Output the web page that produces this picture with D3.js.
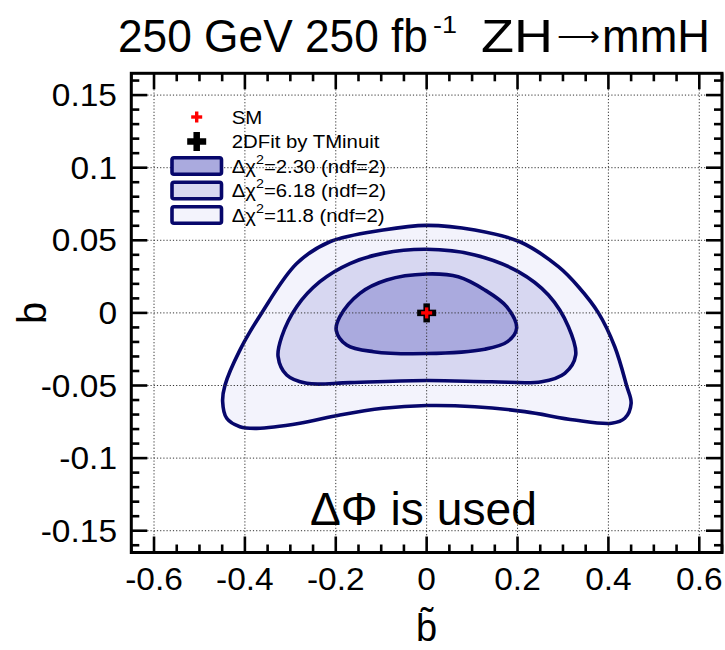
<!DOCTYPE html>
<html><head><meta charset="utf-8">
<script src="https://cdn.jsdelivr.net/npm/d3@7"></script>
<style>body{margin:0;background:#fff} svg{display:block} text{font-family:"Liberation Sans",Arial,Helvetica,sans-serif;fill:#000}</style>
</head><body>
<svg id="c" width="725" height="650"></svg>
<script>
// ---- data ----
const xTicks = [-0.6, -0.4, -0.2, 0, 0.2, 0.4, 0.6];
const xTickLabels = ["-0.6", "-0.4", "-0.2", "0", "0.2", "0.4", "0.6"];
const yTicks = [-0.15, -0.1, -0.05, 0, 0.05, 0.1, 0.15];
const yTickLabels = ["-0.15", "-0.1", "-0.05", "0", "0.05", "0.1", "0.15"];

// contour Δχ²=11.8
const outerBt = [0, 0.106, 0.205, 0.290, 0.334, 0.378, 0.414, 0.440, 0.450, 0.436, 0.407, 0.326, 0.216, 0.106, 0, -0.096, -0.191, -0.279, -0.374, -0.411, -0.440, -0.449, -0.444, -0.411, -0.363, -0.286, -0.213, -0.096];
const outerB  = [0.0603, 0.0571, 0.049, 0.0318, 0.018, 0.0, -0.0233, -0.050, -0.0623, -0.0726, -0.076, -0.0738, -0.068, -0.0646, -0.0638, -0.0657, -0.0703, -0.076, -0.0795, -0.0784, -0.0726, -0.061, -0.050, -0.0256, 0.0, 0.034, 0.049, 0.0571];
// contour Δχ²=6.18
const middleBt = [0, 0.106, 0.2016, 0.268, 0.312, 0.328, 0.304, 0.253, 0.143, 0, -0.169, -0.264, -0.308, -0.327, -0.319, -0.286, -0.235, -0.169, -0.096];
const middleB  = [0.0438, 0.0399, 0.0284, 0.0123, -0.0095, -0.029, -0.0416, -0.0474, -0.0474, -0.0466, -0.048, -0.0485, -0.0428, -0.0300, -0.0164, 0.0043, 0.0215, 0.034, 0.041];
// contour Δχ²=2.30
const innerBt = [0, 0.0695, 0.128, 0.176, 0.198, 0.178, 0.128, 0, -0.117, -0.176, -0.199, -0.191, -0.147, -0.088];
const innerB  = [0.0268, 0.0249, 0.0158, 0.0043, -0.0105, -0.0198, -0.025, -0.0280, -0.0267, -0.0221, -0.012, -0.0026, 0.0135, 0.0227];

const smPoint = [0, 0];
const fitPoint = [0, 0];
const legendLabels = ["SM", "2DFit by TMinuit"];
const contourLabels = ["2.30", "6.18", "11.8"];

// ---- drawing ----
const svg = d3.select("#c");
const x = d3.scaleLinear().domain([-0.65, 0.65]).range([131.3, 722]);
const y = d3.scaleLinear().domain([-0.165, 0.165]).range([552.5, 73.3]);

const fills = {outer: "#f3f3fc", middle: "#d7d7f1", inner: "#aaaade"};
const strokeC = "#07076b";

function txt(sel, px, py, s, size, anchor, sx) {
  return sel.append("text")
    .attr("transform", `translate(${px},${py}) scale(${sx},1)`)
    .attr("font-size", size).attr("text-anchor", anchor).text(s);
}
// text scaled horizontally so that it spans exactly `len` pixels
function fitTxt(sel, px, py, s, size, len) {
  const t = sel.append("text").attr("font-size", size).attr("text-anchor", "start").text(s);
  const w = t.node().getComputedTextLength() || len;
  t.attr("transform", `translate(${px},${py}) scale(${len / w},1)`);
  return t;
}

const zip = (a, b) => a.map((v, i) => [v, b[i]]);
const contours = [
  {pts: zip(outerBt, outerB), fill: fills.outer},
  {pts: zip(middleBt, middleB), fill: fills.middle},
  {pts: zip(innerBt, innerB), fill: fills.inner}
];
const line = d3.line().x(d => x(d[0])).y(d => y(d[1])).curve(d3.curveCatmullRomClosed.alpha(0.5));

const plot = svg.append("g");
plot.selectAll("path.fill").data(contours).join("path").attr("class", "fill")
  .attr("d", d => line(d.pts)).attr("fill", d => d.fill).attr("stroke", "none");

// grid
const grid = svg.append("g").attr("stroke", "#333").attr("stroke-width", 1).attr("stroke-dasharray", "1.2,2");
grid.selectAll("line.gx").data(xTicks).join("line").attr("class", "gx")
  .attr("x1", d => x(d)).attr("x2", d => x(d)).attr("y1", y(0.165)).attr("y2", y(-0.165));
grid.selectAll("line.gy").data(yTicks).join("line").attr("class", "gy")
  .attr("y1", d => y(d)).attr("y2", d => y(d)).attr("x1", x(-0.65)).attr("x2", x(0.65));

plot.append("g").selectAll("path").data(contours).join("path")
  .attr("d", d => line(d.pts)).attr("fill", "none").attr("stroke", strokeC)
  .attr("stroke-width", 3.6).attr("stroke-linejoin", "round");

// markers
function cross(g, cx, cy, span, th, color) {
  g.append("rect").attr("x", cx - span / 2).attr("y", cy - th / 2).attr("width", span).attr("height", th).attr("fill", color);
  g.append("rect").attr("x", cx - th / 2).attr("y", cy - span / 2).attr("width", th).attr("height", span).attr("fill", color);
}
cross(svg, x(fitPoint[0]), y(fitPoint[1]), 19, 6.5, "#000");
cross(svg, x(smPoint[0]), y(smPoint[1]), 11, 3.4, "#ff0000");

// ticks (all four sides, inside)
const xMinor = d3.range(-13, 14).map(i => i * 0.05).filter(v => !xTicks.some(t => Math.abs(t - v) < 1e-9));
const yMinor = d3.range(-16, 17).map(i => i * 0.01).filter(v => !yTicks.some(t => Math.abs(t - v) < 1e-9));
const ax = svg.append("g").attr("stroke", "#000").attr("stroke-width", 2.6);
function tickSet(cls, data, major) {
  const L = major ? 16 : 8;
  ax.selectAll("line.b" + cls).data(data).join("line").attr("class", "b" + cls)
    .attr("x1", d => x(d)).attr("x2", d => x(d)).attr("y1", y(-0.165)).attr("y2", y(-0.165) - L);
  ax.selectAll("line.t" + cls).data(data).join("line").attr("class", "t" + cls)
    .attr("x1", d => x(d)).attr("x2", d => x(d)).attr("y1", y(0.165)).attr("y2", y(0.165) + L);
}
function tickSetY(cls, data, major) {
  const L = major ? 16 : 8;
  ax.selectAll("line.l" + cls).data(data).join("line").attr("class", "l" + cls)
    .attr("y1", d => y(d)).attr("y2", d => y(d)).attr("x1", x(-0.65)).attr("x2", x(-0.65) + L);
  ax.selectAll("line.r" + cls).data(data).join("line").attr("class", "r" + cls)
    .attr("y1", d => y(d)).attr("y2", d => y(d)).attr("x1", x(0.65)).attr("x2", x(0.65) - L);
}
tickSet("M", xTicks, true); tickSet("m", xMinor, false);
tickSetY("M", yTicks, true); tickSetY("m", yMinor, false);

// frame
svg.append("rect").attr("x", x(-0.65)).attr("y", y(0.165))
  .attr("width", x(0.65) - x(-0.65)).attr("height", y(-0.165) - y(0.165))
  .attr("fill", "none").attr("stroke", "#000").attr("stroke-width", 3);

// tick labels
const lab = svg.append("g");
xTicks.forEach((t, i) => txt(lab, x(t), 590, xTickLabels[i], 31, "middle", 1.08));
yTicks.forEach((t, i) => txt(lab, 117, y(t) + 11, yTickLabels[i], 31, "end", 1.08));

// axis titles
svg.append("text").attr("transform", `translate(46,${y(0)}) rotate(-90)`)
  .attr("font-size", 40).attr("text-anchor", "middle").text("b");
svg.append("text").attr("x", x(0)).attr("y", 641).attr("font-size", 38)
  .attr("text-anchor", "middle").attr("font-family", "DejaVu Sans").text("b\u0303");

// title
fitTxt(svg, 118, 52, "250 GeV 250 fb", 46, 310);
fitTxt(svg, 433, 33, "-1", 24, 24);
fitTxt(svg, 481, 52, "ZH", 46, 72);
txt(svg, 578, 46, "\u27F6", 30, "middle", 1.0).attr("font-family", "DejaVu Sans");
fitTxt(svg, 602, 52, "mmH", 46, 108);

// ΔΦ text
fitTxt(svg, 310, 525, "\u0394\u03A6 is used", 46, 227);

// legend
const lg = svg.append("g");
const rowY = [117, 141.5, 166, 190.5, 215];
const legMx = 196.7, legTx = 231.7;
cross(lg, legMx, rowY[0], 11, 3.4, "#ff0000");
cross(lg, legMx, rowY[1], 19, 6.5, "#000");
txt(lg, legTx, rowY[0] + 6.5, legendLabels[0], 18.5, "start", 1.1);
txt(lg, legTx, rowY[1] + 6.5, legendLabels[1], 18.5, "start", 1.1);
const boxFills = [fills.inner, fills.middle, fills.outer];
contourLabels.forEach((c, i) => {
  const cy = rowY[2 + i];
  lg.append("rect").attr("x", 172).attr("y", cy - 8.3).attr("width", 49.5).attr("height", 16.6)
    .attr("rx", 2).attr("fill", boxFills[i]).attr("stroke", strokeC).attr("stroke-width", 3.6);
  const t = lg.append("text").attr("transform", `translate(${legTx},${cy + 6.5}) scale(1.1,1)`)
    .attr("font-size", 18.5);
  t.append("tspan").text("\u0394\u03C7");
  t.append("tspan").attr("font-size", 13).attr("dy", -9).text("2");
  t.append("tspan").attr("dy", 9).text(`=${c} (ndf=2)`);
});
</script>
</body></html>
